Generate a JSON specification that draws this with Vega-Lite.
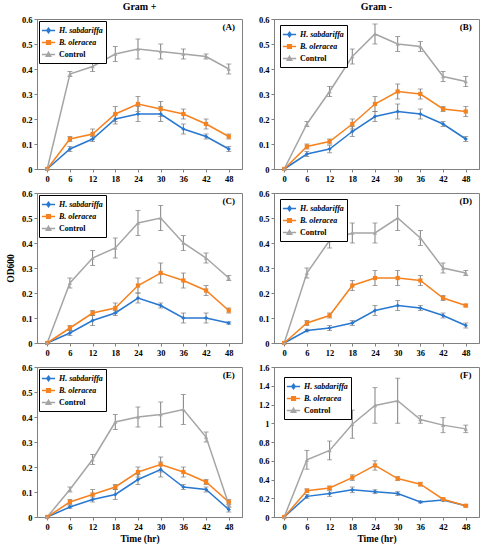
{
  "$schema": "https://vega.github.io/schema/vega-lite/v6.json",
  "padding": {"left": 4, "top": 1, "right": 2, "bottom": 2},
  "background": "white",
  "data": {
    "values": [
      {"p": "A", "s": "H. sabdariffa", "t": 0, "od": 0, "sd": 0},
      {"p": "A", "s": "H. sabdariffa", "t": 6, "od": 0.08, "sd": 0.01},
      {"p": "A", "s": "H. sabdariffa", "t": 12, "od": 0.12, "sd": 0.01},
      {"p": "A", "s": "H. sabdariffa", "t": 18, "od": 0.2, "sd": 0.02},
      {"p": "A", "s": "H. sabdariffa", "t": 24, "od": 0.22, "sd": 0.03},
      {"p": "A", "s": "H. sabdariffa", "t": 30, "od": 0.22, "sd": 0.03},
      {"p": "A", "s": "H. sabdariffa", "t": 36, "od": 0.16, "sd": 0.02},
      {"p": "A", "s": "H. sabdariffa", "t": 42, "od": 0.13, "sd": 0.01},
      {"p": "A", "s": "H. sabdariffa", "t": 48, "od": 0.08, "sd": 0.01},
      {"p": "A", "s": "B. oleracea", "t": 0, "od": 0, "sd": 0},
      {"p": "A", "s": "B. oleracea", "t": 6, "od": 0.12, "sd": 0.01},
      {"p": "A", "s": "B. oleracea", "t": 12, "od": 0.14, "sd": 0.02},
      {"p": "A", "s": "B. oleracea", "t": 18, "od": 0.22, "sd": 0.03},
      {"p": "A", "s": "B. oleracea", "t": 24, "od": 0.26, "sd": 0.03},
      {"p": "A", "s": "B. oleracea", "t": 30, "od": 0.24, "sd": 0.03},
      {"p": "A", "s": "B. oleracea", "t": 36, "od": 0.22, "sd": 0.02},
      {"p": "A", "s": "B. oleracea", "t": 42, "od": 0.18, "sd": 0.02},
      {"p": "A", "s": "B. oleracea", "t": 48, "od": 0.13, "sd": 0.01},
      {"p": "A", "s": "Control", "t": 0, "od": 0, "sd": 0},
      {"p": "A", "s": "Control", "t": 6, "od": 0.38, "sd": 0.01},
      {"p": "A", "s": "Control", "t": 12, "od": 0.41, "sd": 0.02},
      {"p": "A", "s": "Control", "t": 18, "od": 0.46, "sd": 0.03},
      {"p": "A", "s": "Control", "t": 24, "od": 0.48, "sd": 0.04},
      {"p": "A", "s": "Control", "t": 30, "od": 0.47, "sd": 0.03},
      {"p": "A", "s": "Control", "t": 36, "od": 0.46, "sd": 0.02},
      {"p": "A", "s": "Control", "t": 42, "od": 0.45, "sd": 0.01},
      {"p": "A", "s": "Control", "t": 48, "od": 0.4, "sd": 0.02},
      {"p": "B", "s": "H. sabdariffa", "t": 0, "od": 0, "sd": 0},
      {"p": "B", "s": "H. sabdariffa", "t": 6, "od": 0.06, "sd": 0.01},
      {"p": "B", "s": "H. sabdariffa", "t": 12, "od": 0.08, "sd": 0.015},
      {"p": "B", "s": "H. sabdariffa", "t": 18, "od": 0.15, "sd": 0.02},
      {"p": "B", "s": "H. sabdariffa", "t": 24, "od": 0.21, "sd": 0.02},
      {"p": "B", "s": "H. sabdariffa", "t": 30, "od": 0.23, "sd": 0.03},
      {"p": "B", "s": "H. sabdariffa", "t": 36, "od": 0.22, "sd": 0.02},
      {"p": "B", "s": "H. sabdariffa", "t": 42, "od": 0.18, "sd": 0.01},
      {"p": "B", "s": "H. sabdariffa", "t": 48, "od": 0.12, "sd": 0.01},
      {"p": "B", "s": "B. oleracea", "t": 0, "od": 0, "sd": 0},
      {"p": "B", "s": "B. oleracea", "t": 6, "od": 0.09, "sd": 0.01},
      {"p": "B", "s": "B. oleracea", "t": 12, "od": 0.11, "sd": 0.01},
      {"p": "B", "s": "B. oleracea", "t": 18, "od": 0.18, "sd": 0.02},
      {"p": "B", "s": "B. oleracea", "t": 24, "od": 0.26, "sd": 0.03},
      {"p": "B", "s": "B. oleracea", "t": 30, "od": 0.31, "sd": 0.03},
      {"p": "B", "s": "B. oleracea", "t": 36, "od": 0.3, "sd": 0.02},
      {"p": "B", "s": "B. oleracea", "t": 42, "od": 0.24, "sd": 0.01},
      {"p": "B", "s": "B. oleracea", "t": 48, "od": 0.23, "sd": 0.02},
      {"p": "B", "s": "Control", "t": 0, "od": 0, "sd": 0},
      {"p": "B", "s": "Control", "t": 6, "od": 0.18, "sd": 0.01},
      {"p": "B", "s": "Control", "t": 12, "od": 0.31, "sd": 0.02},
      {"p": "B", "s": "Control", "t": 18, "od": 0.45, "sd": 0.03},
      {"p": "B", "s": "Control", "t": 24, "od": 0.54, "sd": 0.04},
      {"p": "B", "s": "Control", "t": 30, "od": 0.5, "sd": 0.03},
      {"p": "B", "s": "Control", "t": 36, "od": 0.49, "sd": 0.02},
      {"p": "B", "s": "Control", "t": 42, "od": 0.37, "sd": 0.02},
      {"p": "B", "s": "Control", "t": 48, "od": 0.35, "sd": 0.02},
      {"p": "C", "s": "H. sabdariffa", "t": 0, "od": 0, "sd": 0},
      {"p": "C", "s": "H. sabdariffa", "t": 6, "od": 0.04, "sd": 0.01},
      {"p": "C", "s": "H. sabdariffa", "t": 12, "od": 0.09, "sd": 0.02},
      {"p": "C", "s": "H. sabdariffa", "t": 18, "od": 0.12, "sd": 0.01},
      {"p": "C", "s": "H. sabdariffa", "t": 24, "od": 0.18, "sd": 0.02},
      {"p": "C", "s": "H. sabdariffa", "t": 30, "od": 0.15, "sd": 0.01},
      {"p": "C", "s": "H. sabdariffa", "t": 36, "od": 0.1, "sd": 0.02},
      {"p": "C", "s": "H. sabdariffa", "t": 42, "od": 0.1, "sd": 0.02},
      {"p": "C", "s": "H. sabdariffa", "t": 48, "od": 0.08, "sd": 0.005},
      {"p": "C", "s": "B. oleracea", "t": 0, "od": 0, "sd": 0},
      {"p": "C", "s": "B. oleracea", "t": 6, "od": 0.06, "sd": 0.01},
      {"p": "C", "s": "B. oleracea", "t": 12, "od": 0.12, "sd": 0.01},
      {"p": "C", "s": "B. oleracea", "t": 18, "od": 0.14, "sd": 0.02},
      {"p": "C", "s": "B. oleracea", "t": 24, "od": 0.23, "sd": 0.03},
      {"p": "C", "s": "B. oleracea", "t": 30, "od": 0.28, "sd": 0.04},
      {"p": "C", "s": "B. oleracea", "t": 36, "od": 0.25, "sd": 0.03},
      {"p": "C", "s": "B. oleracea", "t": 42, "od": 0.21, "sd": 0.02},
      {"p": "C", "s": "B. oleracea", "t": 48, "od": 0.13, "sd": 0.01},
      {"p": "C", "s": "Control", "t": 0, "od": 0, "sd": 0},
      {"p": "C", "s": "Control", "t": 6, "od": 0.24, "sd": 0.02},
      {"p": "C", "s": "Control", "t": 12, "od": 0.34, "sd": 0.03},
      {"p": "C", "s": "Control", "t": 18, "od": 0.38, "sd": 0.04},
      {"p": "C", "s": "Control", "t": 24, "od": 0.48, "sd": 0.05},
      {"p": "C", "s": "Control", "t": 30, "od": 0.5, "sd": 0.05},
      {"p": "C", "s": "Control", "t": 36, "od": 0.4, "sd": 0.03},
      {"p": "C", "s": "Control", "t": 42, "od": 0.34, "sd": 0.02},
      {"p": "C", "s": "Control", "t": 48, "od": 0.26, "sd": 0.01},
      {"p": "D", "s": "H. sabdariffa", "t": 0, "od": 0, "sd": 0},
      {"p": "D", "s": "H. sabdariffa", "t": 6, "od": 0.05, "sd": 0.005},
      {"p": "D", "s": "H. sabdariffa", "t": 12, "od": 0.06, "sd": 0.01},
      {"p": "D", "s": "H. sabdariffa", "t": 18, "od": 0.08, "sd": 0.01},
      {"p": "D", "s": "H. sabdariffa", "t": 24, "od": 0.13, "sd": 0.02},
      {"p": "D", "s": "H. sabdariffa", "t": 30, "od": 0.15, "sd": 0.02},
      {"p": "D", "s": "H. sabdariffa", "t": 36, "od": 0.14, "sd": 0.01},
      {"p": "D", "s": "H. sabdariffa", "t": 42, "od": 0.11, "sd": 0.01},
      {"p": "D", "s": "H. sabdariffa", "t": 48, "od": 0.07, "sd": 0.01},
      {"p": "D", "s": "B. oleracea", "t": 0, "od": 0, "sd": 0},
      {"p": "D", "s": "B. oleracea", "t": 6, "od": 0.08, "sd": 0.01},
      {"p": "D", "s": "B. oleracea", "t": 12, "od": 0.11, "sd": 0.01},
      {"p": "D", "s": "B. oleracea", "t": 18, "od": 0.23, "sd": 0.02},
      {"p": "D", "s": "B. oleracea", "t": 24, "od": 0.26, "sd": 0.03},
      {"p": "D", "s": "B. oleracea", "t": 30, "od": 0.26, "sd": 0.03},
      {"p": "D", "s": "B. oleracea", "t": 36, "od": 0.25, "sd": 0.02},
      {"p": "D", "s": "B. oleracea", "t": 42, "od": 0.18, "sd": 0.01},
      {"p": "D", "s": "B. oleracea", "t": 48, "od": 0.15, "sd": 0.005},
      {"p": "D", "s": "Control", "t": 0, "od": 0, "sd": 0},
      {"p": "D", "s": "Control", "t": 6, "od": 0.28, "sd": 0.02},
      {"p": "D", "s": "Control", "t": 12, "od": 0.41, "sd": 0.03},
      {"p": "D", "s": "Control", "t": 18, "od": 0.44, "sd": 0.04},
      {"p": "D", "s": "Control", "t": 24, "od": 0.44, "sd": 0.04},
      {"p": "D", "s": "Control", "t": 30, "od": 0.5, "sd": 0.05},
      {"p": "D", "s": "Control", "t": 36, "od": 0.42, "sd": 0.03},
      {"p": "D", "s": "Control", "t": 42, "od": 0.3, "sd": 0.02},
      {"p": "D", "s": "Control", "t": 48, "od": 0.28, "sd": 0.01},
      {"p": "E", "s": "H. sabdariffa", "t": 0, "od": 0, "sd": 0},
      {"p": "E", "s": "H. sabdariffa", "t": 6, "od": 0.04, "sd": 0.005},
      {"p": "E", "s": "H. sabdariffa", "t": 12, "od": 0.07, "sd": 0.01},
      {"p": "E", "s": "H. sabdariffa", "t": 18, "od": 0.09, "sd": 0.02},
      {"p": "E", "s": "H. sabdariffa", "t": 24, "od": 0.15, "sd": 0.02},
      {"p": "E", "s": "H. sabdariffa", "t": 30, "od": 0.19, "sd": 0.03},
      {"p": "E", "s": "H. sabdariffa", "t": 36, "od": 0.12, "sd": 0.01},
      {"p": "E", "s": "H. sabdariffa", "t": 42, "od": 0.11, "sd": 0.01},
      {"p": "E", "s": "H. sabdariffa", "t": 48, "od": 0.03, "sd": 0.01},
      {"p": "E", "s": "B. oleracea", "t": 0, "od": 0, "sd": 0},
      {"p": "E", "s": "B. oleracea", "t": 6, "od": 0.06, "sd": 0.01},
      {"p": "E", "s": "B. oleracea", "t": 12, "od": 0.09, "sd": 0.02},
      {"p": "E", "s": "B. oleracea", "t": 18, "od": 0.12, "sd": 0.01},
      {"p": "E", "s": "B. oleracea", "t": 24, "od": 0.18, "sd": 0.02},
      {"p": "E", "s": "B. oleracea", "t": 30, "od": 0.21, "sd": 0.03},
      {"p": "E", "s": "B. oleracea", "t": 36, "od": 0.18, "sd": 0.02},
      {"p": "E", "s": "B. oleracea", "t": 42, "od": 0.14, "sd": 0.01},
      {"p": "E", "s": "B. oleracea", "t": 48, "od": 0.06, "sd": 0.01},
      {"p": "E", "s": "Control", "t": 0, "od": 0, "sd": 0},
      {"p": "E", "s": "Control", "t": 6, "od": 0.11, "sd": 0.01},
      {"p": "E", "s": "Control", "t": 12, "od": 0.23, "sd": 0.02},
      {"p": "E", "s": "Control", "t": 18, "od": 0.38, "sd": 0.03},
      {"p": "E", "s": "Control", "t": 24, "od": 0.4, "sd": 0.04},
      {"p": "E", "s": "Control", "t": 30, "od": 0.41, "sd": 0.05},
      {"p": "E", "s": "Control", "t": 36, "od": 0.43, "sd": 0.06},
      {"p": "E", "s": "Control", "t": 42, "od": 0.32, "sd": 0.02},
      {"p": "E", "s": "Control", "t": 48, "od": 0.05, "sd": 0.01},
      {"p": "F", "s": "H. sabdariffa", "t": 0, "od": 0, "sd": 0},
      {"p": "F", "s": "H. sabdariffa", "t": 6, "od": 0.22, "sd": 0.02},
      {"p": "F", "s": "H. sabdariffa", "t": 12, "od": 0.25, "sd": 0.03},
      {"p": "F", "s": "H. sabdariffa", "t": 18, "od": 0.29, "sd": 0.03},
      {"p": "F", "s": "H. sabdariffa", "t": 24, "od": 0.27, "sd": 0.02},
      {"p": "F", "s": "H. sabdariffa", "t": 30, "od": 0.25, "sd": 0.02},
      {"p": "F", "s": "H. sabdariffa", "t": 36, "od": 0.16, "sd": 0.01},
      {"p": "F", "s": "H. sabdariffa", "t": 42, "od": 0.18, "sd": 0.01},
      {"p": "F", "s": "H. sabdariffa", "t": 48, "od": 0.12, "sd": 0.01},
      {"p": "F", "s": "B. oleracea", "t": 0, "od": 0, "sd": 0},
      {"p": "F", "s": "B. oleracea", "t": 6, "od": 0.28, "sd": 0.02},
      {"p": "F", "s": "B. oleracea", "t": 12, "od": 0.31, "sd": 0.02},
      {"p": "F", "s": "B. oleracea", "t": 18, "od": 0.42, "sd": 0.03},
      {"p": "F", "s": "B. oleracea", "t": 24, "od": 0.55, "sd": 0.05},
      {"p": "F", "s": "B. oleracea", "t": 30, "od": 0.41, "sd": 0.02},
      {"p": "F", "s": "B. oleracea", "t": 36, "od": 0.35, "sd": 0.02},
      {"p": "F", "s": "B. oleracea", "t": 42, "od": 0.19, "sd": 0.01},
      {"p": "F", "s": "B. oleracea", "t": 48, "od": 0.12, "sd": 0.01},
      {"p": "F", "s": "Control", "t": 0, "od": 0, "sd": 0},
      {"p": "F", "s": "Control", "t": 6, "od": 0.61, "sd": 0.1},
      {"p": "F", "s": "Control", "t": 12, "od": 0.71, "sd": 0.1},
      {"p": "F", "s": "Control", "t": 18, "od": 0.99, "sd": 0.15},
      {"p": "F", "s": "Control", "t": 24, "od": 1.19, "sd": 0.19},
      {"p": "F", "s": "Control", "t": 30, "od": 1.24, "sd": 0.24},
      {"p": "F", "s": "Control", "t": 36, "od": 1.04, "sd": 0.04},
      {"p": "F", "s": "Control", "t": 42, "od": 0.98, "sd": 0.08},
      {"p": "F", "s": "Control", "t": 48, "od": 0.94, "sd": 0.04}
    ]
  },
  "columns": 2,
  "align": "each",
  "spacing": {"row": 5, "column": 14},
  "resolve": {"scale": {"color": "independent"}},
  "concat": [
    {
      "width": 205, "height": 150,
      "title": "Gram +",
      "transform": [{"filter": "datum.p == 'A'"}],
      "encoding": {
        "x": {"field": "t", "type": "quantitative", "scale": {"domain": [-2.7, 51.5], "nice": false, "zero": false}, "axis": {"values": [0, 6, 12, 18, 24, 30, 36, 42, 48], "title": null}},
        "y": {"field": "od", "type": "quantitative", "scale": {"domain": [0, 0.6], "nice": false}, "axis": {"values": [0, 0.1, 0.2, 0.3, 0.4, 0.5, 0.6], "format": "~g", "title": null}}
      },
      "layer": [
        {"transform": [{"filter": "datum.sd > 0"}], "mark": {"type": "errorbar", "color": "#7f7f7f", "size": 5, "thickness": 1, "ticks": true}, "encoding": {"yError": {"field": "sd"}}},
        {"mark": {"type": "line", "strokeWidth": 1.5}, "encoding": {"color": {"field": "s", "type": "nominal", "scale": {"domain": ["H. sabdariffa", "B. oleracea", "Control"], "range": ["#2878d0", "#f5821f", "#a5a5a5"]}, "legend": {"title": null, "offset": 2, "encode": {"symbols": {"update": {"shape": {"signal": "datum.value == 'Control' ? 'M-1.2,0H1.2M0,-0.4L0.4,0.3H-0.4Z' : datum.value == 'B. oleracea' ? 'M-1.2,0H1.2M-0.33,-0.33H0.33V0.33H-0.33Z' : 'M-1.2,0H1.2M0,-0.42L0.3,0L0,0.42L-0.3,0Z'"}, "fill": {"signal": "datum.value == 'Control' ? '#a5a5a5' : datum.value == 'B. oleracea' ? '#f5821f' : '#2878d0'"}, "stroke": {"signal": "datum.value == 'Control' ? '#a5a5a5' : datum.value == 'B. oleracea' ? '#f5821f' : '#2878d0'"}, "strokeWidth": {"value": 1.5}, "opacity": {"value": 1}}}, "labels": {"update": {"fontStyle": {"signal": "datum.value == 'Control' ? 'normal' : 'italic'"}}}}}}}},
        {"mark": {"type": "point", "filled": true, "size": 18, "opacity": 1}, "encoding": {"color": {"field": "s", "type": "nominal", "scale": {"domain": ["H. sabdariffa", "B. oleracea", "Control"], "range": ["#2878d0", "#f5821f", "#a5a5a5"]}, "legend": null}, "shape": {"condition": [{"test": "datum.s == 'Control'", "value": "triangle-up"}, {"test": "datum.s == 'B. oleracea'", "value": "square"}], "value": "diamond"}}},
        {"transform": [{"filter": "datum.t == 48 && datum.s == 'Control'"}], "mark": {"type": "text", "fontWeight": "bold", "fontSize": 9}, "encoding": {"x": {"datum": 48}, "y": {"datum": 0.57}, "text": {"value": "(A)"}}}
      ]
    },
    {
      "width": 205, "height": 150,
      "title": "Gram -",
      "transform": [{"filter": "datum.p == 'B'"}],
      "encoding": {
        "x": {"field": "t", "type": "quantitative", "scale": {"domain": [-2.7, 51.5], "nice": false, "zero": false}, "axis": {"values": [0, 6, 12, 18, 24, 30, 36, 42, 48], "title": null}},
        "y": {"field": "od", "type": "quantitative", "scale": {"domain": [0, 0.6], "nice": false}, "axis": {"values": [0, 0.1, 0.2, 0.3, 0.4, 0.5, 0.6], "format": "~g", "title": null}}
      },
      "layer": [
        {"transform": [{"filter": "datum.sd > 0"}], "mark": {"type": "errorbar", "color": "#7f7f7f", "size": 5, "thickness": 1, "ticks": true}, "encoding": {"yError": {"field": "sd"}}},
        {"mark": {"type": "line", "strokeWidth": 1.5}, "encoding": {"color": {"field": "s", "type": "nominal", "scale": {"domain": ["H. sabdariffa", "B. oleracea", "Control"], "range": ["#2878d0", "#f5821f", "#a5a5a5"]}, "legend": {"title": null, "offset": 6, "encode": {"symbols": {"update": {"shape": {"signal": "datum.value == 'Control' ? 'M-1.2,0H1.2M0,-0.4L0.4,0.3H-0.4Z' : datum.value == 'B. oleracea' ? 'M-1.2,0H1.2M-0.33,-0.33H0.33V0.33H-0.33Z' : 'M-1.2,0H1.2M0,-0.42L0.3,0L0,0.42L-0.3,0Z'"}, "fill": {"signal": "datum.value == 'Control' ? '#a5a5a5' : datum.value == 'B. oleracea' ? '#f5821f' : '#2878d0'"}, "stroke": {"signal": "datum.value == 'Control' ? '#a5a5a5' : datum.value == 'B. oleracea' ? '#f5821f' : '#2878d0'"}, "strokeWidth": {"value": 1.5}, "opacity": {"value": 1}}}, "labels": {"update": {"fontStyle": {"signal": "datum.value == 'Control' ? 'normal' : 'italic'"}}}}}}}},
        {"mark": {"type": "point", "filled": true, "size": 18, "opacity": 1}, "encoding": {"color": {"field": "s", "type": "nominal", "scale": {"domain": ["H. sabdariffa", "B. oleracea", "Control"], "range": ["#2878d0", "#f5821f", "#a5a5a5"]}, "legend": null}, "shape": {"condition": [{"test": "datum.s == 'Control'", "value": "triangle-up"}, {"test": "datum.s == 'B. oleracea'", "value": "square"}], "value": "diamond"}}},
        {"transform": [{"filter": "datum.t == 48 && datum.s == 'Control'"}], "mark": {"type": "text", "fontWeight": "bold", "fontSize": 9}, "encoding": {"x": {"datum": 48}, "y": {"datum": 0.57}, "text": {"value": "(B)"}}}
      ]
    },
    {
      "width": 205, "height": 150,
      "transform": [{"filter": "datum.p == 'C'"}],
      "encoding": {
        "x": {"field": "t", "type": "quantitative", "scale": {"domain": [-2.7, 51.5], "nice": false, "zero": false}, "axis": {"values": [0, 6, 12, 18, 24, 30, 36, 42, 48], "title": null}},
        "y": {"field": "od", "type": "quantitative", "scale": {"domain": [0, 0.6], "nice": false}, "axis": {"values": [0, 0.1, 0.2, 0.3, 0.4, 0.5, 0.6], "format": "~g", "title": "OD600", "titlePadding": 6}}
      },
      "layer": [
        {"transform": [{"filter": "datum.sd > 0"}], "mark": {"type": "errorbar", "color": "#7f7f7f", "size": 5, "thickness": 1, "ticks": true}, "encoding": {"yError": {"field": "sd"}}},
        {"mark": {"type": "line", "strokeWidth": 1.5}, "encoding": {"color": {"field": "s", "type": "nominal", "scale": {"domain": ["H. sabdariffa", "B. oleracea", "Control"], "range": ["#2878d0", "#f5821f", "#a5a5a5"]}, "legend": {"title": null, "offset": 2, "encode": {"symbols": {"update": {"shape": {"signal": "datum.value == 'Control' ? 'M-1.2,0H1.2M0,-0.4L0.4,0.3H-0.4Z' : datum.value == 'B. oleracea' ? 'M-1.2,0H1.2M-0.33,-0.33H0.33V0.33H-0.33Z' : 'M-1.2,0H1.2M0,-0.42L0.3,0L0,0.42L-0.3,0Z'"}, "fill": {"signal": "datum.value == 'Control' ? '#a5a5a5' : datum.value == 'B. oleracea' ? '#f5821f' : '#2878d0'"}, "stroke": {"signal": "datum.value == 'Control' ? '#a5a5a5' : datum.value == 'B. oleracea' ? '#f5821f' : '#2878d0'"}, "strokeWidth": {"value": 1.5}, "opacity": {"value": 1}}}, "labels": {"update": {"fontStyle": {"signal": "datum.value == 'Control' ? 'normal' : 'italic'"}}}}}}}},
        {"mark": {"type": "point", "filled": true, "size": 18, "opacity": 1}, "encoding": {"color": {"field": "s", "type": "nominal", "scale": {"domain": ["H. sabdariffa", "B. oleracea", "Control"], "range": ["#2878d0", "#f5821f", "#a5a5a5"]}, "legend": null}, "shape": {"condition": [{"test": "datum.s == 'Control'", "value": "triangle-up"}, {"test": "datum.s == 'B. oleracea'", "value": "square"}], "value": "diamond"}}},
        {"transform": [{"filter": "datum.t == 48 && datum.s == 'Control'"}], "mark": {"type": "text", "fontWeight": "bold", "fontSize": 9}, "encoding": {"x": {"datum": 48}, "y": {"datum": 0.57}, "text": {"value": "(C)"}}}
      ]
    },
    {
      "width": 205, "height": 150,
      "transform": [{"filter": "datum.p == 'D'"}],
      "encoding": {
        "x": {"field": "t", "type": "quantitative", "scale": {"domain": [-2.7, 51.5], "nice": false, "zero": false}, "axis": {"values": [0, 6, 12, 18, 24, 30, 36, 42, 48], "title": null}},
        "y": {"field": "od", "type": "quantitative", "scale": {"domain": [0, 0.6], "nice": false}, "axis": {"values": [0, 0.1, 0.2, 0.3, 0.4, 0.5, 0.6], "format": "~g", "title": null}}
      },
      "layer": [
        {"transform": [{"filter": "datum.sd > 0"}], "mark": {"type": "errorbar", "color": "#7f7f7f", "size": 5, "thickness": 1, "ticks": true}, "encoding": {"yError": {"field": "sd"}}},
        {"mark": {"type": "line", "strokeWidth": 1.5}, "encoding": {"color": {"field": "s", "type": "nominal", "scale": {"domain": ["H. sabdariffa", "B. oleracea", "Control"], "range": ["#2878d0", "#f5821f", "#a5a5a5"]}, "legend": {"title": null, "offset": 6, "encode": {"symbols": {"update": {"shape": {"signal": "datum.value == 'Control' ? 'M-1.2,0H1.2M0,-0.4L0.4,0.3H-0.4Z' : datum.value == 'B. oleracea' ? 'M-1.2,0H1.2M-0.33,-0.33H0.33V0.33H-0.33Z' : 'M-1.2,0H1.2M0,-0.42L0.3,0L0,0.42L-0.3,0Z'"}, "fill": {"signal": "datum.value == 'Control' ? '#a5a5a5' : datum.value == 'B. oleracea' ? '#f5821f' : '#2878d0'"}, "stroke": {"signal": "datum.value == 'Control' ? '#a5a5a5' : datum.value == 'B. oleracea' ? '#f5821f' : '#2878d0'"}, "strokeWidth": {"value": 1.5}, "opacity": {"value": 1}}}, "labels": {"update": {"fontStyle": {"signal": "datum.value == 'Control' ? 'normal' : 'italic'"}}}}}}}},
        {"mark": {"type": "point", "filled": true, "size": 18, "opacity": 1}, "encoding": {"color": {"field": "s", "type": "nominal", "scale": {"domain": ["H. sabdariffa", "B. oleracea", "Control"], "range": ["#2878d0", "#f5821f", "#a5a5a5"]}, "legend": null}, "shape": {"condition": [{"test": "datum.s == 'Control'", "value": "triangle-up"}, {"test": "datum.s == 'B. oleracea'", "value": "square"}], "value": "diamond"}}},
        {"transform": [{"filter": "datum.t == 48 && datum.s == 'Control'"}], "mark": {"type": "text", "fontWeight": "bold", "fontSize": 9}, "encoding": {"x": {"datum": 48}, "y": {"datum": 0.57}, "text": {"value": "(D)"}}}
      ]
    },
    {
      "width": 205, "height": 150,
      "transform": [{"filter": "datum.p == 'E'"}],
      "encoding": {
        "x": {"field": "t", "type": "quantitative", "scale": {"domain": [-2.7, 51.5], "nice": false, "zero": false}, "axis": {"values": [0, 6, 12, 18, 24, 30, 36, 42, 48], "title": "Time (hr)"}},
        "y": {"field": "od", "type": "quantitative", "scale": {"domain": [0, 0.6], "nice": false}, "axis": {"values": [0, 0.1, 0.2, 0.3, 0.4, 0.5, 0.6], "format": "~g", "title": null}}
      },
      "layer": [
        {"transform": [{"filter": "datum.sd > 0"}], "mark": {"type": "errorbar", "color": "#7f7f7f", "size": 5, "thickness": 1, "ticks": true}, "encoding": {"yError": {"field": "sd"}}},
        {"mark": {"type": "line", "strokeWidth": 1.5}, "encoding": {"color": {"field": "s", "type": "nominal", "scale": {"domain": ["H. sabdariffa", "B. oleracea", "Control"], "range": ["#2878d0", "#f5821f", "#a5a5a5"]}, "legend": {"title": null, "offset": 2, "encode": {"symbols": {"update": {"shape": {"signal": "datum.value == 'Control' ? 'M-1.2,0H1.2M0,-0.4L0.4,0.3H-0.4Z' : datum.value == 'B. oleracea' ? 'M-1.2,0H1.2M-0.33,-0.33H0.33V0.33H-0.33Z' : 'M-1.2,0H1.2M0,-0.42L0.3,0L0,0.42L-0.3,0Z'"}, "fill": {"signal": "datum.value == 'Control' ? '#a5a5a5' : datum.value == 'B. oleracea' ? '#f5821f' : '#2878d0'"}, "stroke": {"signal": "datum.value == 'Control' ? '#a5a5a5' : datum.value == 'B. oleracea' ? '#f5821f' : '#2878d0'"}, "strokeWidth": {"value": 1.5}, "opacity": {"value": 1}}}, "labels": {"update": {"fontStyle": {"signal": "datum.value == 'Control' ? 'normal' : 'italic'"}}}}}}}},
        {"mark": {"type": "point", "filled": true, "size": 18, "opacity": 1}, "encoding": {"color": {"field": "s", "type": "nominal", "scale": {"domain": ["H. sabdariffa", "B. oleracea", "Control"], "range": ["#2878d0", "#f5821f", "#a5a5a5"]}, "legend": null}, "shape": {"condition": [{"test": "datum.s == 'Control'", "value": "triangle-up"}, {"test": "datum.s == 'B. oleracea'", "value": "square"}], "value": "diamond"}}},
        {"transform": [{"filter": "datum.t == 48 && datum.s == 'Control'"}], "mark": {"type": "text", "fontWeight": "bold", "fontSize": 9}, "encoding": {"x": {"datum": 48}, "y": {"datum": 0.57}, "text": {"value": "(E)"}}}
      ]
    },
    {
      "width": 205, "height": 150,
      "transform": [{"filter": "datum.p == 'F'"}],
      "encoding": {
        "x": {"field": "t", "type": "quantitative", "scale": {"domain": [-2.7, 51.5], "nice": false, "zero": false}, "axis": {"values": [0, 6, 12, 18, 24, 30, 36, 42, 48], "title": "Time (hr)"}},
        "y": {"field": "od", "type": "quantitative", "scale": {"domain": [0, 1.6], "nice": false}, "axis": {"values": [0, 0.2, 0.4, 0.6, 0.8, 1, 1.2, 1.4, 1.6], "format": "~g", "title": null}}
      },
      "layer": [
        {"transform": [{"filter": "datum.sd > 0"}], "mark": {"type": "errorbar", "color": "#7f7f7f", "size": 5, "thickness": 1, "ticks": true}, "encoding": {"yError": {"field": "sd"}}},
        {"mark": {"type": "line", "strokeWidth": 1.5}, "encoding": {"color": {"field": "s", "type": "nominal", "scale": {"domain": ["H. sabdariffa", "B. oleracea", "Control"], "range": ["#2878d0", "#f5821f", "#a5a5a5"]}, "legend": {"title": null, "offset": 10, "encode": {"symbols": {"update": {"shape": {"signal": "datum.value == 'Control' ? 'M-1.2,0H1.2M0,-0.4L0.4,0.3H-0.4Z' : datum.value == 'B. oleracea' ? 'M-1.2,0H1.2M-0.33,-0.33H0.33V0.33H-0.33Z' : 'M-1.2,0H1.2M0,-0.42L0.3,0L0,0.42L-0.3,0Z'"}, "fill": {"signal": "datum.value == 'Control' ? '#a5a5a5' : datum.value == 'B. oleracea' ? '#f5821f' : '#2878d0'"}, "stroke": {"signal": "datum.value == 'Control' ? '#a5a5a5' : datum.value == 'B. oleracea' ? '#f5821f' : '#2878d0'"}, "strokeWidth": {"value": 1.5}, "opacity": {"value": 1}}}, "labels": {"update": {"fontStyle": {"signal": "datum.value == 'Control' ? 'normal' : 'italic'"}}}}}}}},
        {"mark": {"type": "point", "filled": true, "size": 18, "opacity": 1}, "encoding": {"color": {"field": "s", "type": "nominal", "scale": {"domain": ["H. sabdariffa", "B. oleracea", "Control"], "range": ["#2878d0", "#f5821f", "#a5a5a5"]}, "legend": null}, "shape": {"condition": [{"test": "datum.s == 'Control'", "value": "triangle-up"}, {"test": "datum.s == 'B. oleracea'", "value": "square"}], "value": "diamond"}}},
        {"transform": [{"filter": "datum.t == 48 && datum.s == 'Control'"}], "mark": {"type": "text", "fontWeight": "bold", "fontSize": 9}, "encoding": {"x": {"datum": 48}, "y": {"datum": 1.52}, "text": {"value": "(F)"}}}
      ]
    }
  ],
  "config": {
    "font": "Liberation Serif",
    "view": {"stroke": "#808080", "strokeWidth": 1},
    "axis": {"labelFont": "Liberation Serif", "labelFontWeight": "bold", "labelFontSize": 8.5, "labelColor": "#000", "titleFont": "Liberation Serif", "titleFontWeight": "bold", "titleFontSize": 9.5, "titleColor": "#000", "domainColor": "#808080", "tickColor": "#808080", "tickSize": 3, "grid": false, "labelPadding": 2, "titlePadding": 3},
    "legend": {"orient": "top-left", "labelFont": "Liberation Serif", "labelFontWeight": "bold", "labelFontSize": 8, "labelColor": "#000", "strokeColor": "#000", "fillColor": "#fff", "padding": 3, "rowPadding": 0, "symbolSize": 121, "labelOffset": 4},
    "title": {"font": "Liberation Serif", "fontWeight": "bold", "fontSize": 10, "color": "#000", "offset": 3},
    "text": {"font": "Liberation Serif", "color": "#000"}
  }
}
